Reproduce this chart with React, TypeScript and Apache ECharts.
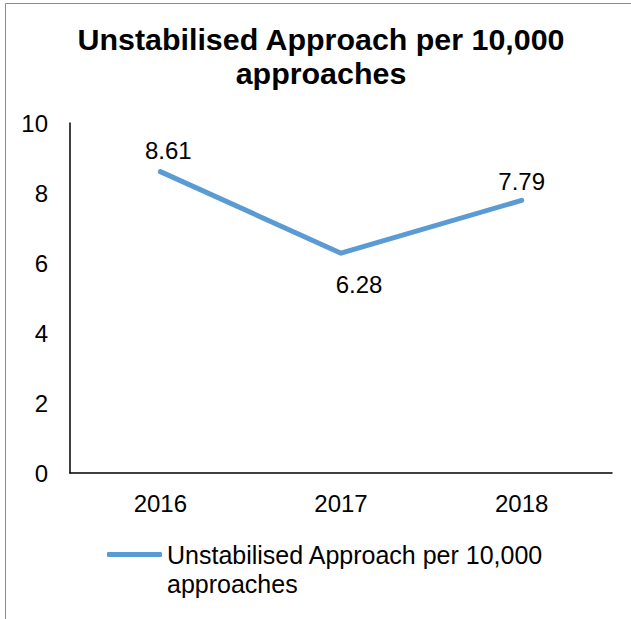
import React, { useEffect, useRef } from "react";
import * as echarts from "echarts";

const categories = ["2016", "2017", "2018"];
const values = [8.61, 6.28, 7.79];
const seriesName = "Unstabilised Approach per 10,000";
const legendLines = ["", "Unstabilised Approach per 10,000", "approaches"];
const titleText = "Unstabilised Approach per 10,000\napproaches";
const yTicks = { min: 0, max: 10, interval: 2 };

const FONT = "'Liberation Sans', Arial, sans-serif";

export default function App() {
  const ref = useRef<HTMLDivElement>(null);
  useEffect(() => {
    if (!ref.current) return;
    const chart = echarts.init(ref.current, undefined, { renderer: "svg" });
    const labelCfg = [
      { position: "top", distance: 9, offset: [8, 0] },
      { position: "bottom", distance: 19, offset: [18, 0] },
      { position: "top", distance: 7, offset: [0, 0] },
    ];
    chart.setOption({
      animation: false,
      backgroundColor: "#fff",
      textStyle: { fontFamily: FONT },
      title: {
        text: titleText,
        left: 321,
        top: 22,
        padding: 0,
        textAlign: "center",
        textStyle: {
          fontFamily: FONT,
          fontSize: 30.4,
          fontWeight: "bold",
          color: "#000",
          lineHeight: 34,
        },
      },
      graphic: [
        {
          type: "rect",
          shape: { x: 5.5, y: 3.5, width: 800, height: 800 },
          style: { fill: "none", stroke: "#8c8c8c", lineWidth: 1 },
          silent: true,
        },
      ],
      grid: { left: 70, right: 19, top: 123, bottom: 146, containLabel: false },
      xAxis: {
        type: "category",
        data: categories,
        boundaryGap: true,
        axisLine: { lineStyle: { color: "#000", width: 1.5 } },
        axisTick: { show: false },
        axisLabel: { fontFamily: FONT, fontSize: 24, color: "#000", margin: 18 },
      },
      yAxis: {
        type: "value",
        min: yTicks.min,
        max: yTicks.max,
        interval: yTicks.interval,
        axisLine: { show: true, lineStyle: { color: "#000", width: 1.5 } },
        axisTick: { show: false },
        splitLine: { show: false },
        axisLabel: { fontFamily: FONT, fontSize: 24, color: "#000", margin: 22 },
      },
      legend: {
        data: [{ name: seriesName, icon: "roundRect" }],
        left: 107,
        top: 511,
        padding: 0,
        itemWidth: 55,
        itemHeight: 5,
        itemStyle: { color: "#5B9BD5" },
        formatter: () => legendLines.join("\n"),
        textStyle: {
          fontFamily: FONT,
          fontSize: 25,
          color: "#000",
          lineHeight: 29,
        },
      },
      series: [
        {
          name: seriesName,
          type: "line",
          data: values.map((v, i) => ({
            value: v,
            label: labelCfg[i],
          })),
          symbol: "circle",
          symbolSize: 0.1,
          showSymbol: true,
          lineStyle: { color: "#5B9BD5", width: 5, cap: "round", join: "round" },
          itemStyle: { color: "#5B9BD5" },
          label: {
            show: true,
            fontFamily: FONT,
            fontSize: 24,
            color: "#000",
            formatter: (p: any) => Number(p.value).toFixed(2),
          },
        },
      ],
    });
    return () => chart.dispose();
  }, []);
  return (
    <div
      ref={ref}
      style={{ position: "absolute", left: 0, top: 0, width: 631, height: 619 }}
    />
  );
}
